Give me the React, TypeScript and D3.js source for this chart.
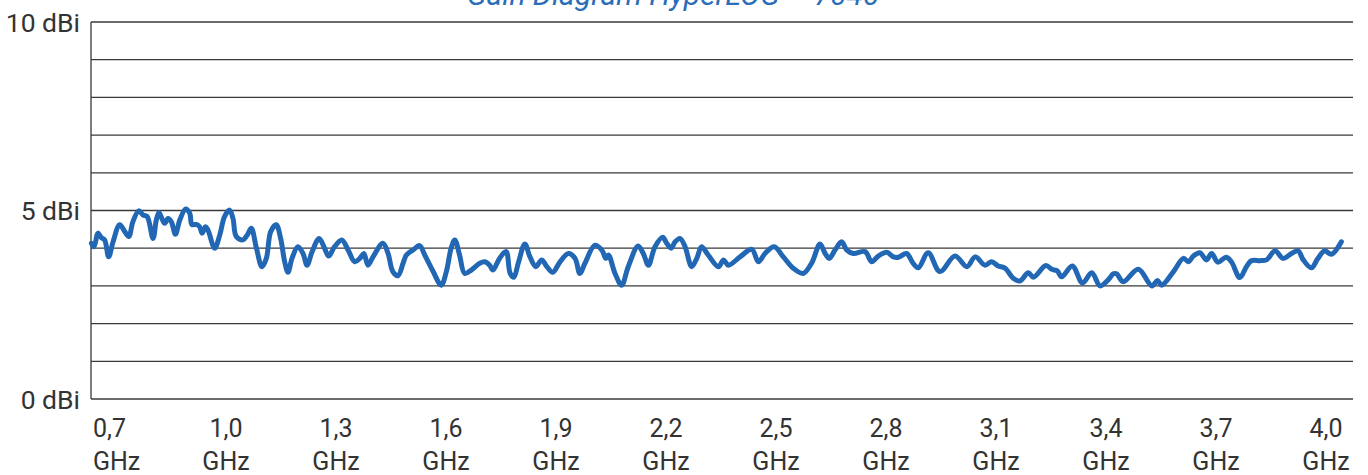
import React, { useEffect, useRef } from 'react';
import * as d3 from 'd3';

// frequency in MHz, gain in dBi
const freqMHz = [
  633, 640, 651, 660, 669, 680, 692, 710, 724, 735, 746, 762, 774, 785, 801, 810,
  817, 825, 833, 842, 851, 862, 874, 890, 901, 907, 919, 928, 935, 944, 951, 969,
  983, 996, 1010, 1019, 1028, 1046, 1058, 1069, 1083, 1098, 1110, 1122, 1137, 1149,
  1160, 1169, 1180, 1196, 1210, 1221, 1235, 1254, 1267, 1280, 1296, 1316, 1333, 1351,
  1365, 1376, 1387, 1401, 1428, 1442, 1455, 1469, 1483, 1492, 1510, 1528, 1542, 1565,
  1587, 1601, 1614, 1624, 1637, 1651, 1669, 1692, 1706, 1719, 1728, 1746, 1764, 1775,
  1785, 1797, 1815, 1829, 1845, 1861, 1875, 1891, 1911, 1934, 1952, 1965, 1979, 2006,
  2025, 2036, 2043, 2061, 2079, 2097, 2124, 2138, 2152, 2170, 2191, 2202, 2214, 2225,
  2238, 2252, 2270, 2284, 2297, 2315, 2343, 2357, 2370, 2402, 2434, 2452, 2470, 2495,
  2520, 2547, 2574, 2597, 2620, 2634, 2645, 2661, 2679, 2693, 2711, 2743, 2761, 2779,
  2802, 2820, 2834, 2856, 2874, 2888, 2915, 2947, 2988, 3021, 3043, 3070, 3088, 3106,
  3125, 3147, 3165, 3188, 3202, 3236, 3252, 3267, 3279, 3308, 3336, 3361, 3384, 3406,
  3420, 3429, 3447, 3488, 3525, 3540, 3552, 3584, 3611, 3625, 3638, 3656, 3674, 3688,
  3705, 3728, 3742, 3765, 3783, 3797, 3820, 3838, 3861, 3883, 3906, 3924, 3938, 3960,
  3978, 3996, 4015, 4042,
];

const gainDbi = [
  4.13, 4.04, 4.40, 4.28, 4.22, 3.77, 4.17, 4.62, 4.44, 4.31, 4.70, 4.99, 4.88, 4.84, 4.26, 4.75,
  4.95, 4.79, 4.66, 4.79, 4.70, 4.37, 4.75, 5.04, 4.93, 4.63, 4.63, 4.57, 4.40, 4.57, 4.48, 4.00,
  4.35, 4.84, 5.01, 4.79, 4.31, 4.22, 4.35, 4.53, 4.00, 3.51, 3.73, 4.44, 4.62, 4.26,
  3.64, 3.36, 3.73, 4.04, 3.86, 3.55, 3.91, 4.26, 4.04, 3.79, 4.04, 4.22, 3.95, 3.64,
  3.73, 3.86, 3.55, 3.77, 4.13, 3.86, 3.38, 3.27, 3.60, 3.82, 3.95, 4.07, 3.82, 3.38,
  3.02, 3.38, 4.00, 4.22, 3.82, 3.33, 3.42, 3.60, 3.64, 3.55, 3.42, 3.73, 3.91, 3.33,
  3.23, 3.60, 4.11, 3.77, 3.51, 3.69, 3.51, 3.36, 3.64, 3.86, 3.73, 3.33, 3.60, 4.08,
  3.95, 3.73, 3.82, 3.33, 3.02, 3.51, 4.06, 3.86, 3.55, 4.04, 4.29, 4.13, 4.00, 4.17,
  4.26, 4.04, 3.51, 3.73, 4.04, 3.82, 3.51, 3.69, 3.55, 3.77, 3.97, 3.64, 3.86, 4.04,
  3.77, 3.47, 3.33, 3.60, 4.11, 3.86, 3.73, 3.95, 4.17, 3.95, 3.86, 3.91, 3.64, 3.79,
  3.89, 3.77, 3.76, 3.86, 3.60, 3.48, 3.88, 3.38, 3.79, 3.51, 3.77, 3.55, 3.64, 3.53,
  3.47, 3.20, 3.13, 3.35, 3.23, 3.54, 3.44, 3.40, 3.24, 3.53, 3.08, 3.35, 3.00, 3.16,
  3.32, 3.32, 3.11, 3.44, 3.00, 3.14, 3.02, 3.38, 3.73, 3.64, 3.79, 3.88, 3.69, 3.86,
  3.63, 3.76, 3.64, 3.22, 3.51, 3.67, 3.67, 3.69, 3.93, 3.73, 3.86, 3.93, 3.69, 3.48,
  3.73, 3.93, 3.84, 4.17,
];

const xTicks = [0.7, 1.0, 1.3, 1.6, 1.9, 2.2, 2.5, 2.8, 3.1, 3.4, 3.7, 4.0];
const yLabels = [0, 5, 10];
const title = 'Gain Diagram HyperLOG – 7040';

const W = 1368;
const H = 475;

export default function App() {
  const svgRef = useRef<SVGSVGElement>(null);

  useEffect(() => {
    if (!svgRef.current) return;
    const svg = d3.select(svgRef.current);
    svg.selectAll('*').remove();

    const left = 91;
    const right = 1353;
    const top = 22;
    const bottom = 399;

    // 0.7 GHz sits at x=116, 0.3 GHz per 110px
    const x = d3.scaleLinear()
      .domain([0.7, 4.0])
      .range([116, 1326]);
    const y = d3.scaleLinear().domain([0, 10]).range([bottom, top]);

    const font = 'Roboto, "Noto Sans", sans-serif';

    // title, mostly cut off by the top edge
    svg.append('text')
      .attr('x', 673)
      .attr('y', 5)
      .attr('text-anchor', 'middle')
      .attr('font-family', font)
      .attr('font-style', 'italic')
      .attr('font-size', 30)
      .attr('fill', '#2a6db8')
      .text(title);

    // horizontal grid
    svg.append('g')
      .selectAll('line')
      .data(d3.range(0, 11))
      .enter()
      .append('line')
      .attr('x1', left)
      .attr('x2', right)
      .attr('y1', d => y(d))
      .attr('y2', d => y(d))
      .attr('stroke', '#3a3a3a')
      .attr('stroke-width', 1.3);

    // left axis line
    svg.append('line')
      .attr('x1', left)
      .attr('x2', left)
      .attr('y1', top)
      .attr('y2', bottom)
      .attr('stroke', '#3a3a3a')
      .attr('stroke-width', 1.3);

    // y labels
    svg.append('g')
      .selectAll('text')
      .data(yLabels)
      .enter()
      .append('text')
      .attr('x', 80)
      .attr('y', d => y(d))
      .attr('dy', '0.36em')
      .attr('text-anchor', 'end')
      .attr('font-family', font)
      .attr('font-size', 26.5)
      .attr('fill', '#333')
      .text(d => `${d} dBi`);

    // x labels, two lines each
    const xl = svg.append('g')
      .selectAll('text')
      .data(xTicks)
      .enter()
      .append('text')
      .attr('text-anchor', (_, i) => (i === 0 ? 'start' : 'middle'))
      .attr('font-family', font)
      .attr('font-size', 25)
      .attr('fill', '#333');
    xl.append('tspan')
      .attr('x', (d, i) => (i === 0 ? left + 2 : x(d)))
      .attr('y', 437)
      .text(d => d.toFixed(1).replace('.', ','));
    xl.append('tspan')
      .attr('x', (d, i) => (i === 0 ? left + 2 : x(d)))
      .attr('y', 470)
      .text('GHz');

    // gain curve
    const pts = freqMHz.map((f, i) => [f / 1000, gainDbi[i]] as [number, number]);
    const line = d3.line<[number, number]>()
      .x(d => x(d[0]))
      .y(d => y(d[1]))
      .curve(d3.curveCatmullRom.alpha(0.5));

    svg.append('path')
      .datum(pts)
      .attr('d', line)
      .attr('fill', 'none')
      .attr('stroke', '#2167b4')
      .attr('stroke-width', 5)
      .attr('stroke-linejoin', 'round')
      .attr('stroke-linecap', 'round');
  }, []);

  return (
    <svg
      ref={svgRef}
      width={W}
      height={H}
      style={{ position: 'absolute', left: 0, top: 0, display: 'block', background: '#fff' }}
    />
  );
}
